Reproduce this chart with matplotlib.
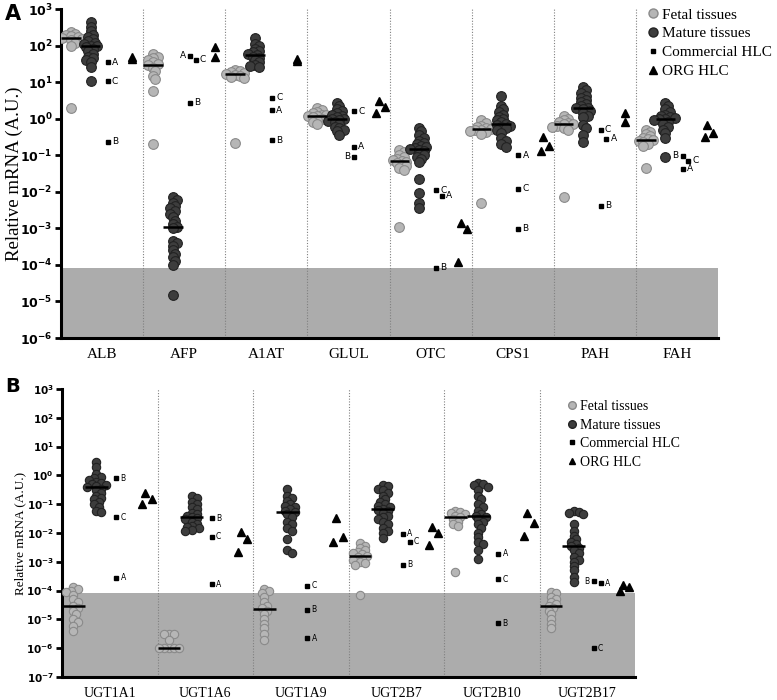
import numpy as np
import matplotlib.pyplot as plt
from matplotlib.lines import Line2D

plt.rcParams['font.family'] = ['Liberation Serif', 'DejaVu Serif']
plt.rcParams['mathtext.fontset'] = 'dejavusans'

#%% data, panel A
genes_a = ['ALB', 'AFP', 'A1AT', 'GLUL', 'OTC', 'CPS1', 'PAH', 'FAH']
fetal_a = [
    [230, 210, 190, 180, 170, 160, 150, 140, 120, 100, 2.0],
    [60, 50, 45, 40, 35, 32, 30, 25, 20, 15, 12, 5.8, 0.2],
    [21, 20, 19, 18, 17, 16, 15, 14, 13, 0.22],
    [2.0, 1.7, 1.5, 1.4, 1.3, 1.25, 1.2, 1.15, 1.1, 1.0, 0.9, 0.8, 0.7],
    [0.14, 0.12, 0.1, 0.09, 0.08, 0.075, 0.07, 0.065, 0.06, 0.055, 0.05, 0.045, 0.04, 0.0011],
    [0.9, 0.75, 0.65, 0.6, 0.55, 0.52, 0.5, 0.48, 0.45, 0.42, 0.38, 0.005],
    [1.2, 1.0, 0.9, 0.8, 0.75, 0.72, 0.7, 0.65, 0.6, 0.55, 0.5, 0.0073],
    [0.5, 0.42, 0.38, 0.33, 0.3, 0.27, 0.26, 0.25, 0.23, 0.2, 0.18, 0.046],
]
mature_a = [
    [440, 330, 250, 200, 170, 150, 130, 120, 110, 100, 95, 90, 80, 70, 60, 50, 45, 40, 35, 26, 11],
    [0.0072, 0.006, 0.005, 0.004, 0.0035, 0.003, 0.0025, 0.002, 0.0016, 0.0013, 0.0011, 0.001,
     4.5e-4, 4e-4, 3.2e-4, 2.5e-4, 2e-4, 1.6e-4, 1.3e-4, 1e-4, 1.5e-5],
    [160, 110, 95, 80, 70, 65, 60, 55, 50, 45, 40, 35, 30, 28, 26],
    [2.7, 2.2, 1.8, 1.6, 1.4, 1.3, 1.2, 1.1, 1.0, 0.95, 0.9, 0.85, 0.8, 0.7, 0.6, 0.55, 0.5, 0.45, 0.36],
    [0.56, 0.45, 0.35, 0.3, 0.25, 0.22, 0.2, 0.18, 0.17, 0.16, 0.15, 0.14, 0.13, 0.11, 0.1, 0.09,
     0.08, 0.065, 0.023, 0.009, 0.005, 0.0037],
    [4.2, 2.2, 1.8, 1.5, 1.3, 1.1, 1.0, 0.9, 0.8, 0.72, 0.68, 0.65, 0.6, 0.55, 0.5, 0.4, 0.3, 0.25, 0.2, 0.17],
    [7.4, 6, 5, 4.2, 3.6, 3.2, 2.8, 2.5, 2.2, 2.0, 1.9, 1.8, 1.6, 1.4, 1.2, 1.1, 0.68, 0.56, 0.36, 0.23],
    [2.7, 2.2, 1.8, 1.5, 1.3, 1.2, 1.1, 1.05, 1.0, 0.95, 0.9, 0.8, 0.7, 0.6, 0.5, 0.4, 0.3, 0.09],
]
comm_letters = ['A', 'B', 'C']
comm_a = [
    [35, 0.23, 10.7],
    [52, 2.7, 41],
    [1.7, 0.26, 3.7],
    [0.17, 0.09, 1.6],
    [0.0078, 8.3e-5, 0.011],
    [0.10, 0.00098, 0.012],
    [0.28, 0.0042, 0.49],
    [0.043, 0.096, 0.071],
]
org_a = [
    [50, 42],
    [90, 50],
    [42, 38],
    [3.1, 2.1, 1.45],
    [0.0014, 0.00098, 1.2e-4],
    [0.32, 0.18, 0.13],
    [1.4, 0.8],
    [0.68, 0.41, 0.32],
]

#%% data, panel B
genes_b = ['UGT1A1', 'UGT1A6', 'UGT1A9', 'UGT2B7', 'UGT2B10', 'UGT2B17']
fetal_b = [
    [1.3e-4, 1.1e-4, 1e-4, 9e-5, 7e-5, 5e-5, 4e-5, 3e-5, 2.5e-5, 2e-5, 1.5e-5, 1e-5, 8e-6, 6e-6, 4e-6],
    [3.2e-6, 3.2e-6, 3e-6, 2e-6, 1e-6, 1e-6, 1e-6, 1e-6, 1e-6],
    [1.1e-4, 1e-4, 8e-5, 6e-5, 4e-5, 3e-5, 2.5e-5, 2e-5, 1.5e-5, 1e-5, 7e-6, 5e-6, 3e-6, 2e-6],
    [0.0045, 0.0035, 0.003, 0.0025, 0.0022, 0.002, 0.0018, 0.0016, 0.0015, 0.0013, 0.0012, 0.001,
     0.0009, 0.0008, 7e-5],
    [0.06, 0.055, 0.05, 0.045, 0.04, 0.036, 0.03, 0.025, 0.02, 0.018, 4.5e-4],
    [9e-5, 8e-5, 6e-5, 5e-5, 4e-5, 3.5e-5, 3e-5, 2.5e-5, 2e-5, 1.5e-5, 1e-5, 7e-6, 5e-6],
]
mature_b = [
    [3.0, 1.9, 1.1, 0.9, 0.8, 0.7, 0.6, 0.55, 0.5, 0.45, 0.42, 0.4, 0.35, 0.3, 0.25, 0.2, 0.17,
     0.15, 0.12, 0.1, 0.08, 0.06, 0.055],
    [0.2, 0.16, 0.12, 0.1, 0.08, 0.07, 0.05, 0.045, 0.04, 0.035, 0.032, 0.03, 0.025, 0.02, 0.018,
     0.016, 0.015, 0.013, 0.012],
    [0.35, 0.2, 0.17, 0.13, 0.1, 0.09, 0.08, 0.07, 0.06, 0.055, 0.045, 0.035, 0.025, 0.02, 0.015,
     0.012, 0.006, 0.0025, 0.002],
    [0.45, 0.42, 0.35, 0.3, 0.25, 0.2, 0.15, 0.12, 0.1, 0.09, 0.08, 0.07, 0.065, 0.06, 0.05, 0.04,
     0.035, 0.03, 0.025, 0.02, 0.015, 0.012, 0.01, 0.0068],
    [0.55, 0.5, 0.45, 0.4, 0.3, 0.2, 0.15, 0.1, 0.08, 0.06, 0.045, 0.04, 0.035, 0.03, 0.025, 0.02,
     0.015, 0.01, 0.007, 0.005, 0.004, 0.0025, 0.0013],
    [0.06, 0.055, 0.05, 0.045, 0.02, 0.012, 0.008, 0.006, 0.005, 0.004, 0.0035, 0.003, 0.0025,
     0.002, 0.0015, 0.0012, 0.001, 7e-4, 5e-4, 3e-4, 2e-4],
]
comm_b = [
    [2.8e-4, 0.8, 0.035],
    [1.65e-4, 0.033, 0.0075],
    [2.2e-6, 2.2e-5, 1.5e-4],
    [0.0093, 7.8e-4, 0.0049],
    [0.0019, 7.4e-6, 2.5e-4],
    [1.8e-4, 2.1e-4, 1e-6],
]
org_b = [
    [0.25, 0.15, 0.1],
    [0.011, 0.006, 0.0022],
    [0.034, 0.0073, 0.005],
    [0.016, 0.01, 0.0038],
    [0.05, 0.022, 0.008],
    [1.6e-4, 1.35e-4, 1e-4],
]
left_labels = [('AFP', 'A'), ('GLUL', 'B'), ('FAH', 'B'), ('UGT2B17', 'B')]
detect_limit = 8e-5

fetal_fc, fetal_ec = '#b6b6b6', '#8a8a8a'
mat_fc, mat_ec = '#3d3d3d', '#222222'
band_c = '#acacac'


def ypix(ax, v):
    return ax.transData.transform([[0, v]])[0, 1]


def swarm(ax, xc, vals, dmin):
    # simple beeswarm in pixel space, returns x positions in data units
    vals = np.asarray(vals, float)
    pts = ax.transData.transform(np.column_stack([np.full(vals.size, xc), vals]))
    yp = pts[:, 1]
    ppu = ax.transData.transform([[1, 1]])[0, 0] - ax.transData.transform([[0, 1]])[0, 0]
    xs = np.full(vals.size, float(xc))
    placed = []
    step = dmin * 0.6
    for i in np.argsort(-yp):
        y = yp[i]
        for k in range(80):
            off = ((k + 1) // 2) * step * (1 if k % 2 else -1)
            if all((off - px) ** 2 + (y - py) ** 2 >= dmin ** 2 for px, py in placed):
                break
        placed.append((off, y))
        xs[i] = xc + off / ppu
    return xs


def panel(ax, genes, fetal, mature, comm, org, ymin, ms, dmin, lab_fs, tick_fs, xfs, yfs):
    n = len(genes)
    ax.set_yscale('log')
    ax.set_ylim(ymin, 1e3)
    ax.set_xlim(-0.5, n - 0.5)
    ax.axhspan(ymin, detect_limit, color=band_c, zorder=0, lw=0)
    for i in range(n):
        xf = swarm(ax, i - 0.38, fetal[i], dmin)
        ax.plot(xf, fetal[i], 'o', ms=ms, mfc=fetal_fc, mec=fetal_ec, mew=0.8, zorder=3)
        xm = swarm(ax, i - 0.14, mature[i], dmin)
        ax.plot(xm, mature[i], 'o', ms=ms, mfc=mat_fc, mec=mat_ec, mew=0.8, zorder=3)
        ax.hlines(np.median(fetal[i]), i - 0.5, i - 0.26, color='k', lw=1.8, zorder=4)
        ax.hlines(np.median(mature[i]), i - 0.26, i - 0.02, color='k', lw=1.8, zorder=4)
        # commercial HLC, nudged right when two squares sit too close
        prev_y, prev_shift = None, False
        for j in np.argsort(comm[i])[::-1]:
            let, v = comm_letters[j], comm[i][j]
            yp = ypix(ax, v)
            shift = prev_y is not None and abs(prev_y - yp) < 9 and not prev_shift
            xc = i + 0.07 + (0.07 if shift else 0)
            prev_y, prev_shift = yp, shift
            ax.plot(xc, v, 's', ms=3, color='k', zorder=4)
            if (genes[i], let) in left_labels:
                ax.annotate(let, (xc, v), xytext=(-3, 0), textcoords='offset points',
                            ha='right', va='center', fontsize=lab_fs, family='DejaVu Sans')
            else:
                ax.annotate(let, (xc, v), xytext=(3, 0), textcoords='offset points',
                            ha='left', va='center', fontsize=lab_fs, family='DejaVu Sans')
        offs = [0, 0.07, -0.03] if len(org[i]) == 3 else [0] * len(org[i])
        ax.plot(i + 0.37 + np.array(offs), org[i], '^', ms=ms - 0.8, color='k', zorder=4)
    # group dividers
    for i in range(1, n):
        ax.axvline(i - 0.5, color='#808080', lw=0.8, ls=(0, (1, 1.5)), zorder=1)
    ax.set_xticks(range(n))
    ax.set_xticklabels(genes, fontsize=xfs)
    ax.tick_params(axis='x', length=0, pad=7)
    exps = range(int(np.log10(ymin)), 4)
    ax.set_yticks([10.0 ** e for e in exps])
    ax.set_yticklabels([r'$\mathbf{10^{%d}}$' % e for e in exps], fontsize=tick_fs)
    ax.yaxis.set_minor_locator(plt.NullLocator())
    ax.tick_params(axis='y', length=4, width=2, pad=2)
    for s in ['top', 'right']:
        ax.spines[s].set_visible(False)
    ax.spines['left'].set_linewidth(2.2)
    ax.spines['bottom'].set_linewidth(2.2)
    ax.set_ylabel('Relative mRNA (A.U.)', fontsize=yfs)


def legend(fig, x, y, fs, ms, sp):
    h = [Line2D([], [], ls='', marker='o', ms=ms, mfc=fetal_fc, mec=fetal_ec),
         Line2D([], [], ls='', marker='o', ms=ms, mfc=mat_fc, mec=mat_ec),
         Line2D([], [], ls='', marker='s', ms=2.5, color='k'),
         Line2D([], [], ls='', marker='^', ms=ms - 1, color='k')]
    fig.legend(h, ['Fetal tissues', 'Mature tissues', 'Commercial HLC', 'ORG HLC'],
               loc='upper left', bbox_to_anchor=(x / 777, 1 - y / 700), fontsize=fs,
               frameon=False, handlelength=0.6, handletextpad=0.3, labelspacing=sp,
               borderpad=0, borderaxespad=0)


#%%
W, H = 777, 700
fig = plt.figure(figsize=(W / 100, H / 100), dpi=100)
axA = fig.add_axes([61 / W, 1 - 338 / H, (718 - 61) / W, (338 - 9) / H])
axB = fig.add_axes([62 / W, 1 - 677 / H, (635 - 62) / W, (677 - 389) / H])

panel(axA, genes_a, fetal_a, mature_a, comm_a, org_a, 1e-6, 7, 3.8, 6.5, 9, 11, 13.5)
panel(axB, genes_b, fetal_b, mature_b, comm_b, org_b, 1e-7, 6, 4.0, 5.5, 7.5, 10, 9.5)
axA.yaxis.set_label_coords(-0.058, 0.5)
axB.yaxis.set_label_coords(-0.062, 0.5)

legend(fig, 648, 8, 11, 6.5, 0.33)
legend(fig, 568, 400, 10, 5.5, 0.4)

fig.text(13 / W, 1 - 14 / H, 'A', fontsize=15, fontweight='bold', family='DejaVu Sans',
         ha='center', va='center')
fig.text(13 / W, 1 - 387 / H, 'B', fontsize=14, fontweight='bold', family='DejaVu Sans',
         ha='center', va='center')

fig.savefig('out.png', dpi=100)
